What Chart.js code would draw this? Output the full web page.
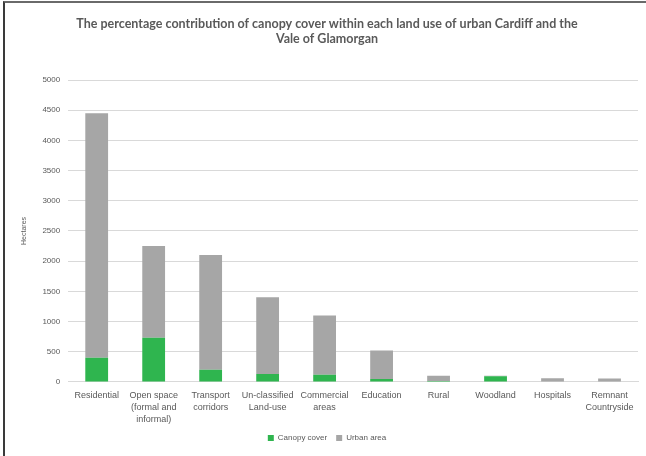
<!DOCTYPE html>
<html>
<head>
<meta charset="utf-8">
<script src="https://cdn.jsdelivr.net/npm/chart.js@4/dist/chart.umd.min.js"></script>
<style>
    body { margin: 0; background: #fff; }
    #marco {
        position: absolute; left: 3px; top: 1px;
        width: 643px; height: 455px;
        border-left: 2px solid #3a3a3a;
        border-top: 2px solid #6a6a6a;
        box-sizing: border-box;
    }
</style>
</head>
<body>
<div id="marco">
    <canvas id="graficoCanopia" width="641" height="453"></canvas>
</div>
<script>
// categorias (uso del suelo)
const usos = [
    "Residential",
    ["Open space", "(formal and", "informal)"],
    ["Transport", "corridors"],
    ["Un-classified", "Land-use"],
    ["Commercial", "areas"],
    "Education",
    "Rural",
    "Woodland",
    "Hospitals",
    ["Remnant", "Countryside"]
];

// hectareas
const copaArborea = [400, 730, 200, 130, 120, 50, 15, 95, 5, 5];
const areaUrbana = [4050, 1520, 1900, 1270, 980, 470, 85, 5, 55, 50];

const marcasY = [0, 500, 1000, 1500, 2000, 2500, 3000, 3500, 4000, 4500, 5000];

const ctx = document.getElementById("graficoCanopia");

new Chart(ctx, {
    type: "bar",
    data: {
        labels: usos,
        datasets: [
            {
                label: "Canopy cover",
                data: copaArborea,
                backgroundColor: "#2fb54f"
            },
            {
                label: "Urban area",
                data: areaUrbana,
                backgroundColor: "#a6a6a6"
            }
        ]
    },
    options: {
        responsive: false,
        animation: false,
        layout: {
            padding: { left: 11, right: 8, top: 2, bottom: 4 }
        },
        datasets: {
            bar: { categoryPercentage: 0.8, barPercentage: 0.5 }
        },
        plugins: {
            title: {
                display: true,
                text: [
                    "The percentage contribution of canopy cover within each land use of urban Cardiff and the",
                    "Vale of Glamorgan"
                ],
                color: "#595959",
                font: { family: "Lato, sans-serif", size: 12.5, weight: "bold" },
                lineHeight: 1.15,
                padding: { top: 11, bottom: 34 }
            },
            legend: {
                position: "bottom",
                labels: {
                    boxWidth: 6,
                    boxHeight: 6,
                    color: "#595959",
                    font: { size: 8 },
                    padding: 9
                }
            },
            tooltip: { enabled: false }
        },
        scales: {
            x: {
                stacked: true,
                grid: { display: false },
                border: { color: "#d9d9d9" },
                ticks: {
                    color: "#595959",
                    font: { size: 9, lineHeight: 1.3 },
                    maxRotation: 0,
                    autoSkip: false,
                    padding: 0
                }
            },
            y: {
                stacked: true,
                min: 0,
                max: 5000,
                afterBuildTicks: (eje) => {
                    eje.ticks = marcasY.map(v => ({ value: v }));
                },
                grid: { color: "#d9d9d9", drawTicks: false },
                border: { display: false },
                ticks: {
                    color: "#595959",
                    font: { size: 8 },
                    padding: 8,
                    callback: (v) => String(v)
                },
                title: {
                    display: true,
                    text: "Hectares",
                    color: "#595959",
                    font: { size: 7 },
                    padding: { bottom: 6 }
                }
            }
        }
    }
});
</script>
</body>
</html>
